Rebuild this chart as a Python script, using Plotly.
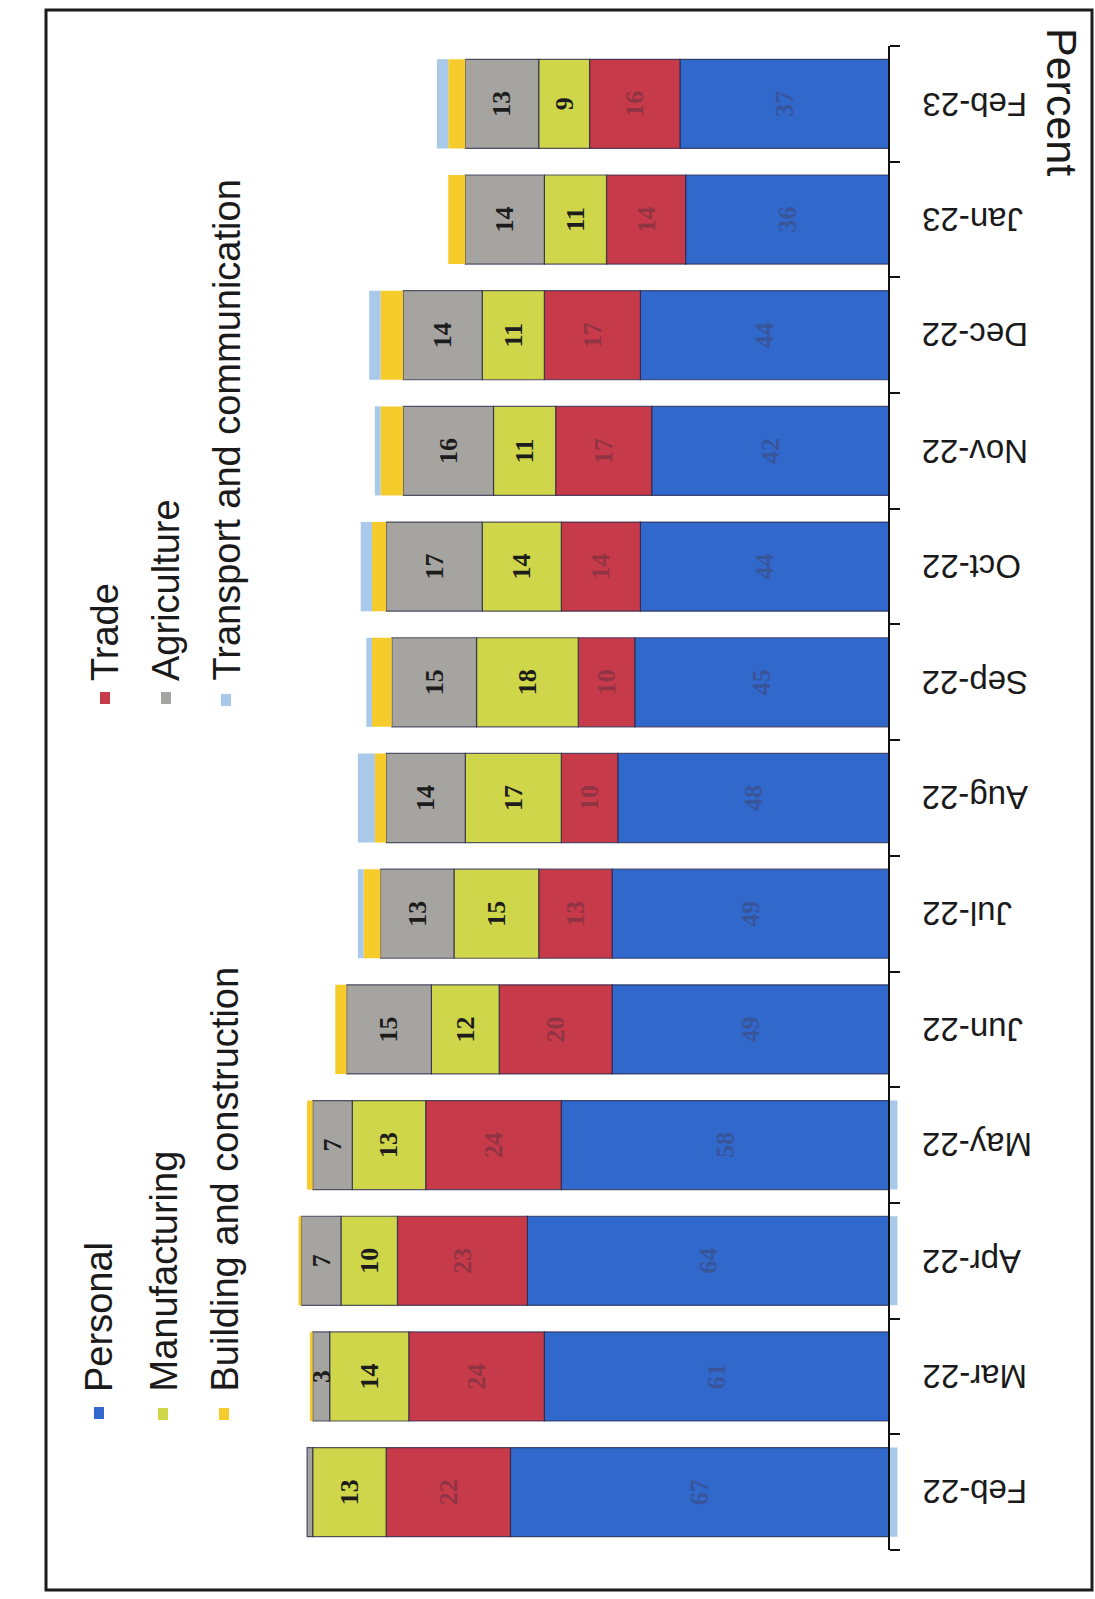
import plotly.graph_objects as go

# Monthly shares by sector (percent)
months = ["Feb-22", "Mar-22", "Apr-22", "May-22", "Jun-22", "Jul-22", "Aug-22",
          "Sep-22", "Oct-22", "Nov-22", "Dec-22", "Jan-23", "Feb-23"]
personal = [67, 61, 64, 58, 49, 49, 48, 45, 44, 42, 44, 36, 37]
trade = [22, 24, 23, 24, 20, 13, 10, 10, 14, 17, 17, 14, 16]
manufacturing = [13, 14, 10, 13, 12, 15, 17, 18, 14, 11, 11, 11, 9]
agriculture = [1, 3, 7, 7, 15, 13, 14, 15, 17, 16, 14, 14, 13]
building = [0, 0.5, 0.5, 1, 2, 3, 2, 3.5, 2.5, 4, 4, 3, 3]
transport = [-1.5, 0, -1.5, -1.5, 0, 1, 3, 1, 2, 1, 2, 0, 2]

# Figure geometry (pixels)
W, H = 1095, 1599
PL, PR = 40, 940          # plot area left / right
PT, PB = 46, 1550         # plot area top / bottom
ZERO_PX = 889             # pixel column of the value axis
PX_PER_UNIT = 5.65


def px_x(p):
    return (p - PL) / (PR - PL)


def px_y(p):
    return (PB - p) / (PB - PT)


BLUE = "#3168cc"
RED = "#c73a4a"
LIME = "#cfd64a"
GREY = "#a6a4a1"
YELLOW = "#f6cc2c"
LIGHTBLUE = "#a9c9ea"
EDGE = "rgba(35,35,70,0.75)"


def labels(vals, minimum=3):
    return [str(v) if v >= minimum else "" for v in vals]


series = [
    ("Personal", personal, BLUE, True, "rgba(60,80,140,0.8)"),
    ("Trade", trade, RED, True, "rgba(125,50,65,0.75)"),
    ("Manufacturing", manufacturing, LIME, True, "#1c1c1c"),
    ("Agriculture", agriculture, GREY, True, "#1c1c1c"),
    ("Building and construction", building, YELLOW, False, None),
    ("Transport and communication", transport, LIGHTBLUE, False, None),
]

fig = go.Figure()
for name, vals, color, edged, txtcolor in series:
    fig.add_trace(go.Bar(
        name=name,
        y=months,
        x=vals,
        orientation="h",
        marker=dict(color=color,
                    line=dict(color=EDGE if edged else color,
                              width=1.2 if edged else 0)),
        text=labels(vals) if txtcolor else None,
        textposition="inside" if txtcolor else "none",
        insidetextanchor="middle",
        textangle=-90,
        constraintext="none",
        textfont=dict(family="Liberation Serif", size=26,
                      color=txtcolor or "#000", weight="bold"),
        hoverinfo="skip",
        showlegend=False,
    ))

x_left = (ZERO_PX - PL) / PX_PER_UNIT
x_right = (ZERO_PX - PR) / PX_PER_UNIT

fig.update_layout(
    width=W, height=H,
    margin=dict(l=PL, r=W - PR, t=PT, b=H - PB),
    barmode="relative",
    bargap=0.23,
    paper_bgcolor="white",
    plot_bgcolor="white",
    xaxis=dict(range=[x_left, x_right], visible=False, fixedrange=True),
    yaxis=dict(
        type="category",
        categoryorder="array",
        categoryarray=months,
        range=[-0.5, len(months) - 0.5],
        side="right",
        anchor="free",
        position=px_x(ZERO_PX),
        showline=True, linecolor="#111", linewidth=2,
        ticks="outside", ticklen=10, tickwidth=2, tickcolor="#111",
        tickson="boundaries",
        showticklabels=False,
        showgrid=False, zeroline=False,
    ),
)

# Month labels, drawn upside down to the right of the axis
for m in months:
    fig.add_annotation(
        x=px_x(920), xref="paper", y=m, yref="y",
        text=m, showarrow=False, textangle=180,
        xanchor="left", yanchor="middle",
        font=dict(family="Liberation Sans", size=33, color="#1a1a1a"),
    )

# Legend: colour swatches with vertical text
legend_items = [
    ("Personal", BLUE, 99, 1413, 1394),
    ("Manufacturing", LIME, 163, 1414, 1394),
    ("Building and construction", YELLOW, 224, 1414, 1394),
    ("Trade", RED, 105, 698, 683),
    ("Agriculture", GREY, 166, 698, 683),
    ("Transport and communication", LIGHTBLUE, 226, 700, 683),
]
for name, color, cx, cy, ty in legend_items:
    fig.add_shape(type="rect", xref="paper", yref="paper",
                  x0=px_x(cx - 5), x1=px_x(cx + 5),
                  y0=px_y(cy + 6), y1=px_y(cy - 6),
                  fillcolor=color, line=dict(width=0))
    fig.add_annotation(
        x=px_x(cx), xref="paper", y=px_y(ty), yref="paper",
        text=name, showarrow=False, textangle=-90,
        xanchor="center", yanchor="bottom",
        font=dict(family="Liberation Sans", size=38, color="#1a1a1a"),
    )

# Unit label
fig.add_annotation(
    x=px_x(1062), xref="paper", y=px_y(102), yref="paper",
    text="Percent", showarrow=False, textangle=90,
    xanchor="center", yanchor="middle",
    font=dict(family="Liberation Sans", size=43, color="#1a1a1a"),
)

# Outer frame
fig.add_shape(type="rect", xref="paper", yref="paper",
              x0=px_x(46), x1=px_x(1092), y0=px_y(1590), y1=px_y(10),
              line=dict(color="#1c1c1c", width=3), fillcolor="rgba(0,0,0,0)")

fig.write_html("out.html")
